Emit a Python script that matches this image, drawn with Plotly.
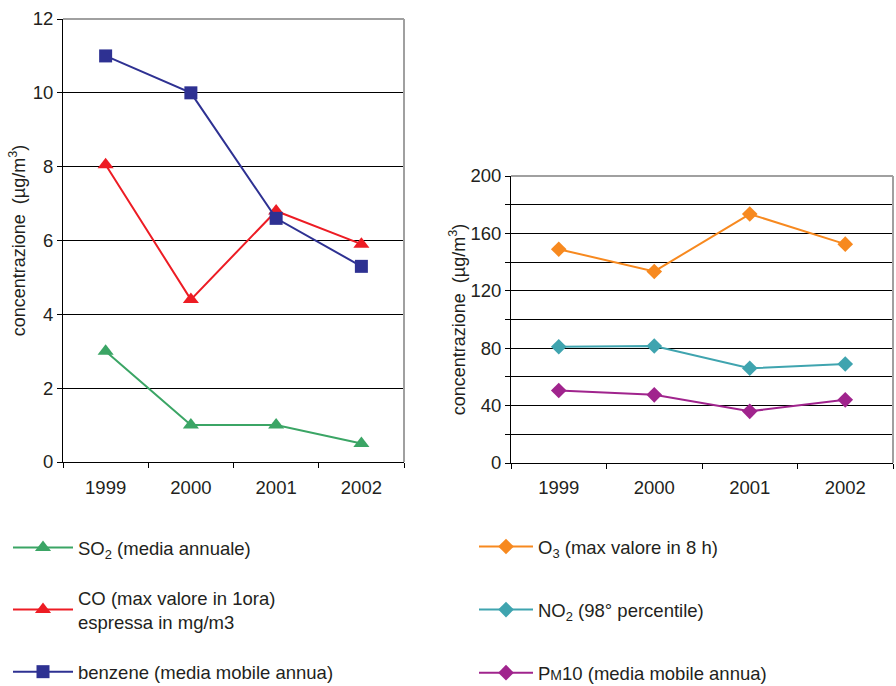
import plotly.graph_objects as go

years = ["1999", "2000", "2001", "2002"]

so2 = [3.0, 1.0, 1.0, 0.5]
co = [8.05, 4.4, 6.8, 5.9]
benzene = [11.0, 10.0, 6.6, 5.3]

o3 = [149, 133.5, 173.5, 152.5]
no2 = [81, 81.5, 66, 69]
pm10 = [50.5, 47.5, 36, 44]

left_ticks = [0, 2, 4, 6, 8, 10, 12]
right_ticks = [0, 20, 40, 60, 80, 100, 120, 140, 160, 180, 200]
right_ticktext = ["0", "", "40", "", "80", "", "120", "", "160", "", "200"]

names_left = ["SO<sub>2</sub> (media annuale)",
              "CO (max valore in 1ora)<br>espressa in mg/m3",
              "benzene (media mobile annua)"]
names_right = ["O<sub>3</sub> (max valore in 8 h)",
               "NO<sub>2</sub> (98° percentile)",
               "P<span style='font-size:14px'>M</span>10 (media mobile annua)"]

FONT = "Liberation Sans, Arial, sans-serif"
W, H = 896, 686

fig = go.Figure()

def add(y, name, color, symbol, size, xa, ya, legend, grp):
    fig.add_trace(go.Scatter(
        x=years, y=y, name=name, mode="lines+markers",
        line=dict(color=color, width=2),
        marker=dict(symbol=symbol, size=size, color=color),
        xaxis=xa, yaxis=ya, legend=legend, legendgroup=grp,
    ))

add(so2, names_left[0], "#3BA565", "triangle-up", 14, "x", "y", "legend", "a")
add(co, names_left[1], "#ED1C24", "triangle-up", 14, "x", "y", "legend", "b")
add(benzene, names_left[2], "#2E3192", "square", 13, "x", "y", "legend", "c")
add(o3, names_right[0], "#F7891F", "diamond", 12, "x2", "y2", "legend2", "d")
add(no2, names_right[1], "#3FA4AF", "diamond", 12, "x2", "y2", "legend2", "e")
add(pm10, names_right[2], "#A0248D", "diamond", 12, "x2", "y2", "legend2", "f")

def px_x(v):
    return v / W

def px_y(v):
    return 1 - v / H

axis_common = dict(showline=True, linecolor="black", linewidth=1,
                   ticks="outside", ticklen=5, tickcolor="black",
                   automargin=False,
                   tickfont=dict(size=18.5, color="#231F20", family=FONT))

fig.update_layout(
    width=W, height=H,
    margin=dict(l=0, r=0, t=0, b=0, autoexpand=False),
    paper_bgcolor="white", plot_bgcolor="white",
    font=dict(family=FONT, color="#231F20"),
    xaxis=dict(domain=[px_x(63), px_x(404)], type="category",
               tickson="boundaries", showgrid=False, anchor="y",
               range=[-0.5, 3.5], ticklabelstandoff=9, **axis_common),
    yaxis=dict(domain=[px_y(462), px_y(19)], range=[0, 12],
               tickvals=left_ticks, showgrid=True, gridcolor="black",
               gridwidth=1, zeroline=False, anchor="x",
               title=dict(text="concentrazione  (µg/m<sup>3</sup>)",
                          font=dict(size=18, family=FONT), standoff=2),
               **axis_common),
    xaxis2=dict(domain=[px_x(511), px_x(893)], type="category",
                tickson="boundaries", showgrid=False, anchor="y2",
                range=[-0.5, 3.5], ticklabelstandoff=8, **axis_common),
    yaxis2=dict(domain=[px_y(463), px_y(176)], range=[0, 200],
                tickvals=right_ticks, ticktext=right_ticktext,
                showgrid=True, gridcolor="black", gridwidth=1,
                zeroline=False, anchor="x2",
                title=dict(text="concentrazione  (µg/m<sup>3</sup>)",
                           font=dict(size=18, family=FONT), standoff=0),
                **axis_common),
    legend=dict(x=px_x(8), y=px_y(529), xanchor="left", yanchor="top",
                font=dict(size=18.5, family=FONT, color="#231F20"),
                tracegroupgap=23, itemwidth=60, bgcolor="rgba(0,0,0,0)"),
    legend2=dict(x=px_x(474), y=px_y(528), xanchor="left", yanchor="top",
                 font=dict(size=18.5, family=FONT, color="#231F20"),
                 tracegroupgap=36, itemwidth=54, bgcolor="rgba(0,0,0,0)"),
    showlegend=True,
)

# gray top and right borders of each plot area
for xr, yr in (("x domain", "y domain"), ("x2 domain", "y2 domain")):
    fig.add_shape(type="line", xref=xr, yref=yr, x0=0, x1=1, y0=1, y1=1,
                  line=dict(color="#A0A0A0", width=2), layer="above")
    fig.add_shape(type="line", xref=xr, yref=yr, x0=1, x1=1, y0=0, y1=1,
                  line=dict(color="#A0A0A0", width=2), layer="above")

fig.write_html("out.html")
